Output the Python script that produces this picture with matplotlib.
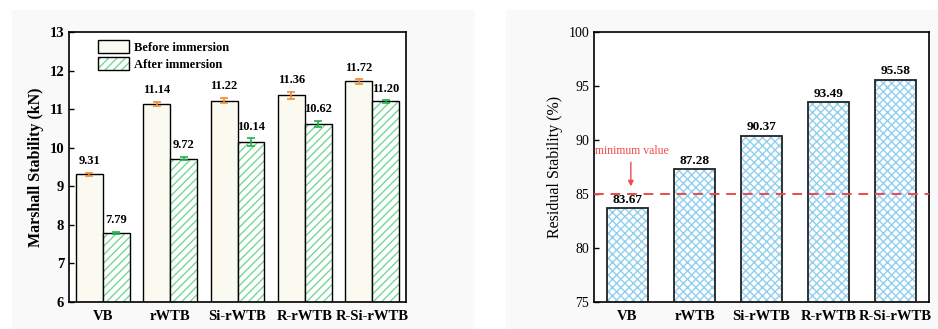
import numpy as np
import matplotlib
matplotlib.use("Agg")
import matplotlib.pyplot as plt
from matplotlib.patches import Rectangle, Patch

plt.rcParams['font.family'] = ['Liberation Serif', 'DejaVu Serif']
plt.rcParams['hatch.linewidth'] = 1.0

# datos
mezclas = ['VB', 'rWTB', 'Si-rWTB', 'R-rWTB', 'R-Si-rWTB']
antes = [9.31, 11.14, 11.22, 11.36, 11.72]
antes_err = [0.04, 0.05, 0.07, 0.09, 0.06]
despues = [7.79, 9.72, 10.14, 10.62, 11.20]
despues_err = [0.03, 0.05, 0.10, 0.08, 0.03]
residual = [83.67, 87.28, 90.37, 93.49, 95.58]
minimo = 85

fig = plt.figure(figsize=(9.38, 3.29), dpi=100)
# fondo gris claro de cada panel
fig.patches.append(Rectangle((12/938, 0), (473-12)/938, 1-10/329,
                             transform=fig.transFigure, color='#f9f9f9', zorder=-10))
fig.patches.append(Rectangle((506/938, 0), (938-506)/938, 1-10/329,
                             transform=fig.transFigure, color='#f9f9f9', zorder=-10))

ax1 = fig.add_axes([69/938, 1-302/329, 337/938, 270/329])
ax2 = fig.add_axes([594/938, 1-302/329, 335/938, 270/329])

x = np.arange(len(mezclas))
w = 0.4

# grafico izquierdo
ax1.bar(x - w/2, antes, w, bottom=0, color='#fbfaf1', edgecolor='black', lw=1,
        zorder=2)
ax1.bar(x + w/2, despues, w, color='white', edgecolor='#74d894', hatch='////', lw=0,
        zorder=2)
ax1.bar(x + w/2, despues, w, fill=False, edgecolor='black', lw=1, zorder=3)
ax1.errorbar(x - w/2, antes, yerr=antes_err, fmt='none', ecolor='#f28a2e',
             capsize=3, elinewidth=1.2, capthick=1.2, zorder=4)
ax1.errorbar(x + w/2, despues, yerr=despues_err, fmt='none', ecolor='#22b14c',
             capsize=3, elinewidth=1.2, capthick=1.2, zorder=4)
for i in range(len(mezclas)):
    ax1.annotate(f'{antes[i]:.2f}', (x[i] - w/2, antes[i] + antes_err[i]),
                 xytext=(0, 4), textcoords='offset points', ha='center',
                 va='bottom', fontsize=9, fontweight='bold')
    ax1.annotate(f'{despues[i]:.2f}', (x[i] + w/2, despues[i] + despues_err[i]),
                 xytext=(0, 4), textcoords='offset points', ha='center',
                 va='bottom', fontsize=9, fontweight='bold')

h1 = Patch(facecolor='#fbfaf1', edgecolor='black', lw=1)
h2 = Patch(facecolor='white', edgecolor='#74d894', hatch='////', lw=0)
h2b = Patch(fill=False, edgecolor='black', lw=1)
ax1.legend([h1, (h2, h2b)], ['Before immersion', 'After immersion'],
           loc='upper left', bbox_to_anchor=(0.086, 0.97), frameon=False,
           borderpad=0, borderaxespad=0, handlelength=2.5, handleheight=1.25,
           labelspacing=0.25, handletextpad=0.35,
           prop={'weight': 'bold', 'size': 9})

ax1.set_xlim(-0.5, 4.5)
ax1.set_ylim(6, 13)
ax1.set_yticks(range(6, 14))
ax1.set_xticks(x)
ax1.set_xticklabels(mezclas, fontweight='bold', fontsize=10.5)
ax1.set_ylabel('Marshall Stability (kN)', fontweight='bold', fontsize=11.5)
for t in ax1.get_yticklabels():
    t.set_fontweight('bold')
    t.set_fontsize(10.5)
ax1.tick_params(axis='y', direction='in', length=3.5, width=1)
ax1.tick_params(axis='x', length=0, pad=6)

# grafico derecho
ax2.bar(x, residual, 0.6, bottom=0, color='white', edgecolor='#90cfed',
        hatch='xxxx', lw=0, zorder=2)
ax2.bar(x, residual, 0.6, fill=False, edgecolor='#222222', lw=1.3, zorder=3)
for i in range(len(mezclas)):
    ax2.annotate(f'{residual[i]:.2f}', (x[i], residual[i]), xytext=(0, 2),
                 textcoords='offset points', ha='center', va='bottom',
                 fontsize=9.5, fontweight='bold')
ax2.axhline(minimo, color='#f04a4a', ls=(0, (5, 3.5)), lw=1.4, zorder=4)
ax2.annotate('', xy=(0.05, 85.45), xytext=(0.05, 88.2),
             arrowprops=dict(arrowstyle='-|>', color='#f04a4a', lw=1,
                             mutation_scale=8))
ax2.text(0.07, 88.95, 'minimum value', color='#f04a4a', ha='center',
         va='center', fontsize=8.5)

ax2.set_xlim(-0.5, 4.5)
ax2.set_ylim(75, 100)
ax2.set_yticks(range(75, 101, 5))
ax2.set_xticks(x)
ax2.set_xticklabels(mezclas, fontweight='bold', fontsize=10.5)
ax2.set_ylabel('Residual Stability (%)', fontsize=11.5)
for t in ax2.get_yticklabels():
    t.set_fontsize(10)
ax2.tick_params(axis='y', direction='in', length=3.5, width=1)
ax2.tick_params(axis='x', length=0, pad=6)

for ax in (ax1, ax2):
    ax.set_facecolor('white')
    for s in ax.spines.values():
        s.set_linewidth(1.2)

fig.savefig('out.png', dpi=100)
